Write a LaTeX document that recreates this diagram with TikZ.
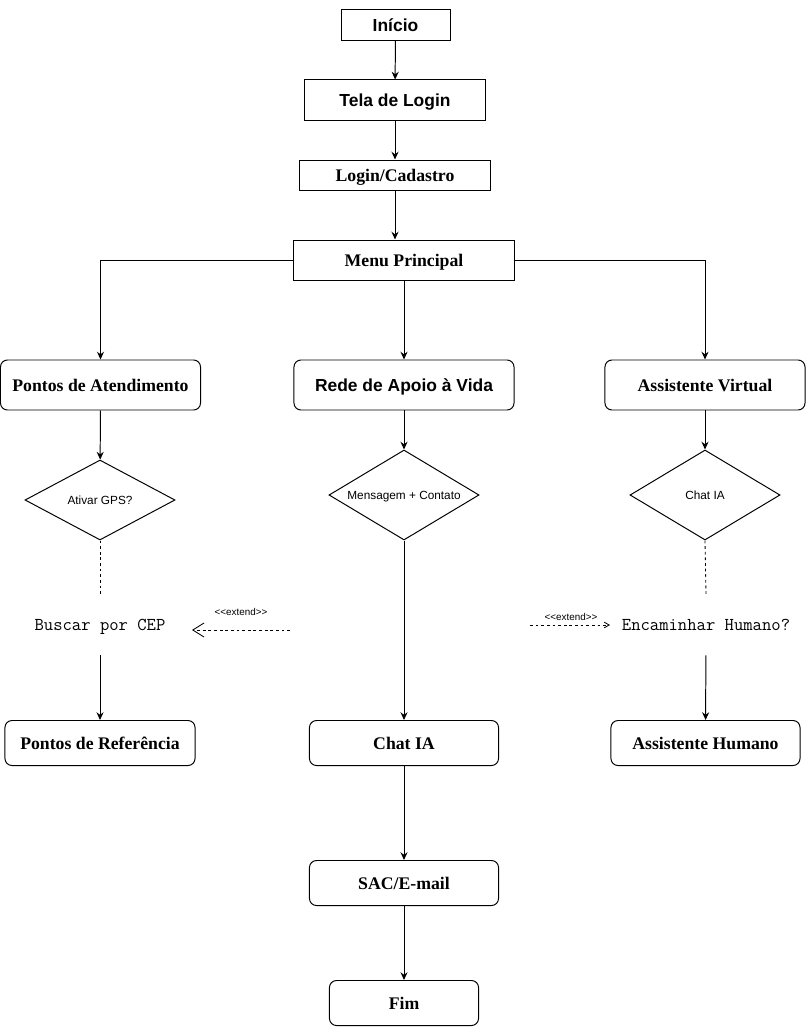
\documentclass[tikz,border=0pt]{standalone}
\usepackage{fontspec}
\setmainfont{Liberation Serif}
\setsansfont{Liberation Sans}
\usetikzlibrary{arrows.meta,shapes.geometric}

\tikzset{
  base/.style={draw, line width=0.7pt, inner sep=0pt, align=center, text height=9pt, text depth=0pt},
  caixa/.style={base, font=\sffamily\bfseries\fontsize{12.4}{14}\selectfont},
  caixaserif/.style={base, font=\bfseries\fontsize{12.6}{14}\selectfont},
  arred/.style={base, rounded corners=5pt},
  decisao/.style={base, diamond, text height=6pt, font=\sffamily\fontsize{8.4}{10}\selectfont},
  texto/.style={inner sep=0pt, minimum height=1.5cm, text height=7.9pt, text depth=0pt, font=\ttfamily\fontsize{12.9}{14}\selectfont},
  seta/.style={line width=0.7pt, -{Stealth[length=5.5pt,width=5pt]}},
  tracejado/.style={line width=0.6pt, dash pattern=on 2pt off 2pt},
  rotulo/.style={font=\sffamily\fontsize{7}{8}\selectfont}
}

\begin{document}
\begin{tikzpicture}[x=0.025cm, y=-0.025cm]
  \useasboundingbox (0,0) rectangle (806,1029);
  % caixas do topo
  \node[caixa, minimum width=2.725cm, minimum height=0.75cm] (inicio) at (395.5,25) {Início};
  \node[caixa, minimum width=4.5cm, minimum height=1cm] (tela) at (395,100) {Tela de Login};
  \node[caixaserif, minimum width=4.75cm, minimum height=0.75cm] (login) at (395,175) {Login/Cadastro};
  \node[caixaserif, minimum width=5.5cm, minimum height=1cm] (menu) at (404,260) {Menu Principal};
  % tres ramos
  \node[caixaserif, arred, minimum width=5cm, minimum height=1.25cm] (pontos) at (100.5,385) {Pontos de Atendimento};
  \node[caixa, arred, minimum width=5.5cm, minimum height=1.25cm] (rede) at (404,385) {Rede de Apoio à Vida};
  \node[caixaserif, arred, minimum width=5cm, minimum height=1.25cm] (assist) at (705,385) {Assistente Virtual};
  \node[decisao, aspect=1.875, minimum width=3.75cm, minimum height=2cm] (gps) at (100,500) {Ativar GPS?};
  \node[decisao, aspect=1.67, minimum width=3.75cm, minimum height=2.25cm] (msg) at (404,495) {Mensagem + Contato};
  \node[decisao, aspect=1.67, minimum width=3.75cm, minimum height=2.25cm] (chatia) at (705,495) {Chat IA};
  \node[texto] (cep) at (100,625) {Buscar por CEP};
  \node[texto] (encam) at (706,625) {Encaminhar Humano?};
  \node[caixaserif, arred, minimum width=4.75cm, minimum height=1.125cm] (ref) at (100,743) {Pontos de Referência};
  \node[caixaserif, arred, minimum width=4.725cm, minimum height=1.125cm] (chat) at (404,743) {Chat IA};
  \node[caixaserif, arred, minimum width=4.725cm, minimum height=1.125cm] (humano) at (705.5,743) {Assistente Humano};
  \node[caixaserif, arred, minimum width=4.725cm, minimum height=1.125cm] (sac) at (404,883) {SAC/E-mail};
  \node[caixaserif, arred, minimum width=3.725cm, minimum height=1.125cm] (fim) at (404,1003) {Fim};
  % ligacoes
  \draw[seta] (inicio) -- (tela);
  \draw[seta] (tela) -- (login);
  \draw[seta] (login.south) -- (login.south |- menu.north);
  \draw[seta] (menu.west) -| (pontos.north);
  \draw[seta] (menu) -- (rede);
  \draw[seta] (menu.east) -| (assist.north);
  \draw[seta] (pontos) -- (gps);
  \draw[seta] (rede) -- (msg);
  \draw[seta] (assist) -- (chatia);
  \draw[tracejado] (gps.south) -- (cep.north);
  \draw[seta] (cep) -- (ref);
  \draw[seta] (msg) -- (chat);
  \draw[tracejado] (chatia.south) -- (encam.north);
  \draw[seta] (encam) -- (humano);
  \draw[seta] (chat) -- (sac);
  \draw[seta] (sac) -- (fim);
  % extend
  \coordinate (e1) at (290,630);
  \coordinate (e2) at (192,630);
  \draw[tracejado, -{Straight Barb[length=8pt,width=10pt]}] (e1) -- (e2);
  \node[rotulo] (ext1) at (241,612) {{<}{<}extend{>}{>}};
  \coordinate (e3) at (530,625);
  \coordinate (e4) at (610,625);
  \draw[tracejado, -{Straight Barb[length=3.5pt,width=4pt]}] (e3) -- (e4);
  \node[rotulo] (ext2) at (571,617) {{<}{<}extend{>}{>}};
\end{tikzpicture}
\end{document}
